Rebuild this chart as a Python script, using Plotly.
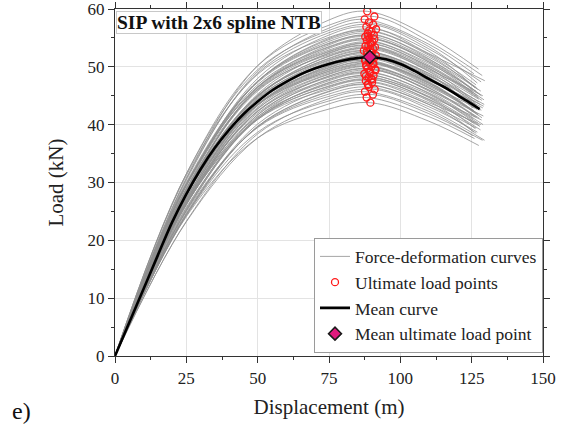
import plotly.graph_objects as go

# ---- data ----
# mean force-deformation curve
mean_disp = [0, 5, 10, 15, 20, 25, 30, 35, 40, 45, 50, 55, 60, 65, 70, 75, 80, 85,
             89.3, 95, 100, 105, 110, 115, 120, 125, 127.8]
mean_load = [0, 5.8, 11.6, 17.4, 23.1, 28.0, 32.3, 36.0, 39.1, 41.8, 44.0, 45.9, 47.4,
             48.7, 49.7, 50.5, 51.1, 51.5, 51.7, 51.3, 50.5, 49.3, 47.9, 46.6, 45.1,
             43.6, 42.7]
mean_ult_disp = 89.3
mean_ult_load = 51.7

# individual specimens: ultimate load points
ult_disp = [89.5, 88.2, 90.4, 87.6, 91.0, 89.0, 88.7, 90.1, 87.9, 89.8,
            88.9, 90.6, 87.4, 89.3, 91.3, 88.5, 89.9, 88.0, 90.3, 89.1,
            87.8, 90.8, 89.6, 88.4, 90.0, 87.2, 89.4, 91.1, 88.8, 89.7,
            90.2, 88.3, 89.2, 87.7, 90.7, 88.6, 89.9, 91.5, 88.1, 90.5,
            89.0, 87.5, 90.9, 88.4,
            88.6, 90.2, 87.9, 89.4, 91.2, 88.1, 90.6, 89.2, 87.6, 90.0,
            88.9, 91.4, 89.7, 88.3, 90.4, 87.8, 89.5, 90.9, 88.7, 89.1]
ult_load = [43.8, 44.7, 45.2, 45.7, 46.1, 46.5, 46.9, 47.3, 47.6, 47.9,
            48.2, 48.5, 48.8, 49.1, 49.4, 49.7, 50.0, 50.3, 50.6, 50.9,
            51.2, 51.5, 51.9, 52.2, 52.5, 52.8, 53.1, 53.4, 53.7, 54.0,
            54.3, 54.6, 54.9, 55.2, 55.5, 55.8, 56.1, 56.5, 56.9, 57.3,
            57.7, 58.2, 58.7, 59.6,
            47.0, 47.8, 48.4, 49.0, 49.6, 50.1, 50.5, 50.8, 51.1, 51.4,
            51.8, 52.0, 52.4, 52.7, 53.2, 53.6, 54.1, 54.8, 55.4, 56.3]

# individual curves: load at displacement 25, 50, 75 and 110, and curve end point
gray_load_25 = [24.1, 23.2, 24.3, 23.3, 25.0, 24.7, 24.5, 26.3, 24.5, 25.7,
                26.4, 25.2, 26.3, 25.1, 26.8, 26.4, 26.2, 27.9, 26.1, 27.3,
                28.0, 26.8, 27.9, 26.8, 28.4, 28.1, 27.8, 29.5, 27.8, 28.9,
                29.7, 28.4, 29.5, 28.4, 30.0, 29.7, 29.4, 31.2, 29.5, 30.7,
                31.5, 30.4, 31.5, 30.7,
                24.3, 26.3, 25.5, 26.7, 25.3, 27.1, 27.9, 26.5, 27.4, 26.4,
                26.9, 28.6, 27.7, 28.6, 27.2, 28.9, 29.8, 28.7, 29.7, 29.0]
gray_load_50 = [37.7, 37.7, 38.7, 38.4, 39.5, 39.6, 39.7, 40.9, 40.1, 40.9,
                41.4, 41.0, 41.7, 41.3, 42.3, 42.3, 42.4, 43.4, 42.7, 43.4,
                44.0, 43.5, 44.4, 43.9, 45.0, 44.9, 45.0, 46.0, 45.3, 46.1,
                46.6, 46.2, 46.9, 46.5, 47.5, 47.5, 47.5, 48.7, 48.0, 48.9,
                49.5, 49.2, 50.2, 50.2,
                39.7, 41.1, 41.1, 42.0, 41.7, 42.8, 43.5, 43.0, 43.6, 43.3,
                43.8, 44.7, 44.5, 45.1, 44.8, 45.8, 46.5, 46.4, 47.3, 47.5]
gray_load_75 = [42.7, 43.6, 44.1, 44.5, 44.9, 45.3, 45.7, 46.1, 46.4, 46.7,
                47.0, 47.3, 47.6, 47.9, 48.2, 48.4, 48.7, 49.0, 49.3, 49.6,
                49.9, 50.2, 50.6, 50.9, 51.2, 51.5, 51.8, 52.1, 52.4, 52.6,
                52.9, 53.2, 53.5, 53.8, 54.1, 54.4, 54.7, 55.1, 55.5, 55.9,
                56.3, 56.7, 57.2, 58.1,
                45.8, 46.6, 47.2, 47.8, 48.4, 48.8, 49.2, 49.5, 49.8, 50.1,
                50.5, 50.7, 51.1, 51.4, 51.9, 52.3, 52.7, 53.4, 54.0, 54.9]
gray_load_110 = [40.6, 41.4, 41.9, 42.3, 42.7, 43.1, 43.5, 43.8, 44.1, 44.4,
                 44.7, 44.9, 45.2, 45.5, 45.8, 46.0, 46.3, 46.6, 46.9, 47.2,
                 47.4, 47.7, 48.1, 48.4, 48.6, 48.9, 49.2, 49.5, 49.8, 50.0,
                 50.3, 50.6, 50.9, 51.1, 51.4, 51.7, 52.0, 52.3, 52.7, 53.1,
                 53.5, 53.9, 54.4, 55.2,
                 43.5, 44.3, 44.8, 45.4, 46.0, 46.4, 46.8, 47.1, 47.3, 47.6,
                 48.0, 48.2, 48.5, 48.8, 49.3, 49.7, 50.1, 50.8, 51.3, 52.2]
gray_end_disp = [127.5, 126.0, 128.8, 125.4, 129.5, 127.0, 126.6, 128.2, 125.8, 127.9,
                 126.3, 128.5, 127.2, 125.6, 129.0, 126.8, 127.7, 125.9, 128.6, 126.4,
                 127.3, 129.2, 125.5, 128.0, 126.9, 127.6, 125.7, 128.9, 126.2, 127.4,
                 129.3, 126.5, 127.8, 125.3, 128.4, 126.7, 127.1, 129.6, 126.1, 128.3,
                 127.0, 125.8, 128.7, 127.4,
                 126.6, 128.1, 125.9, 127.7, 129.1, 126.3, 128.4, 127.2, 125.6, 128.9,
                 126.8, 127.9, 129.4, 126.0, 127.5, 128.6, 125.4, 127.0, 128.2, 126.5]
gray_end_load = [36.4, 37.6, 37.3, 38.1, 37.3, 38.7, 38.5, 40.0, 38.7, 39.7,
                 39.3, 40.8, 40.3, 41.0, 40.0, 41.3, 41.1, 42.4, 41.2, 42.1,
                 41.8, 43.2, 42.9, 43.5, 42.6, 43.9, 43.7, 45.0, 43.8, 44.7,
                 44.3, 45.8, 45.3, 46.0, 45.0, 46.4, 46.1, 47.6, 46.4, 47.4,
                 47.2, 48.8, 48.5, 49.6,
                 39.4, 39.1, 40.2, 39.8, 41.5, 41.3, 42.5, 41.7, 42.2, 42.9,
                 43.4, 42.5, 43.5, 42.8, 44.4, 44.2, 45.5, 45.0, 45.8, 46.9]

SERIF = "Liberation Serif"

fig = go.Figure()

for i in range(len(ult_load)):
    fig.add_trace(go.Scatter(
        x=[0, 25, 50, 75, ult_disp[i], 110, gray_end_disp[i]],
        y=[0, gray_load_25[i], gray_load_50[i], gray_load_75[i], ult_load[i],
           gray_load_110[i], gray_end_load[i]],
        mode="lines", line=dict(color="#8f8f8f", width=0.8, shape="spline"),
        name="Force-deformation curves", legendgroup="curves",
        showlegend=(i == 0)))

fig.add_trace(go.Scatter(
    x=ult_disp, y=ult_load, mode="markers", name="Ultimate load points",
    marker=dict(symbol="circle-open", color="#ff1a1a", size=7, line=dict(width=1.3))))

fig.add_trace(go.Scatter(
    x=mean_disp, y=mean_load, mode="lines", name="Mean curve",
    line=dict(color="black", width=2.6, shape="spline")))

fig.add_trace(go.Scatter(
    x=[mean_ult_disp], y=[mean_ult_load], mode="markers", name="Mean ultimate load point",
    marker=dict(symbol="diamond", color="#e0197d", size=10,
                line=dict(color="#1a1a1a", width=1.5))))

axis_common = dict(showline=True, linecolor="#333333", linewidth=1.2, mirror="ticks",
                   ticks="outside", ticklen=6, tickcolor="#333333", automargin=False,
                   ticklabeloverflow="allow",
                   showgrid=True, gridcolor="#e3e3e3", gridwidth=1, zeroline=False,
                   tickfont=dict(family=SERIF, size=17, color="#222222"),
                   title_font=dict(family=SERIF, size=21, color="#222222"))

fig.update_xaxes(axis_common, range=[0, 150], dtick=25, tick0=0,
                 minor=dict(dtick=12.5, ticks="outside", ticklen=3, tickcolor="#333333"),
                 title_text="Displacement (m)", title_standoff=12)
fig.update_yaxes(axis_common, range=[0, 60], dtick=10, tick0=0,
                 minor=dict(dtick=5, ticks="outside", ticklen=3, tickcolor="#333333"),
                 title_text="Load (kN)", title_standoff=18)

fig.update_layout(
    width=566, height=431,
    margin=dict(l=115, r=23, t=9, b=75),
    plot_bgcolor="white", paper_bgcolor="white",
    font=dict(family=SERIF, color="#222222"),
    legend=dict(x=1, y=0.01, xanchor="right", yanchor="bottom",
                bgcolor="white", bordercolor="#9a9a9a", borderwidth=1,
                font=dict(family=SERIF, size=17.5, color="#222222"),
                tracegroupgap=0, itemwidth=30),
    annotations=[
        dict(text="<b>SIP with 2x6 spline NTB</b>", xref="paper", yref="paper",
             x=0.003, y=0.993, xanchor="left", yanchor="top", showarrow=False,
             font=dict(family=SERIF, size=19.5, color="#111111"),
             bgcolor="white", bordercolor="#c8c8c8", borderwidth=1, borderpad=0),
        dict(text="e)", xref="paper", yref="paper", x=-0.245, y=-0.115,
             xanchor="left", yanchor="top", showarrow=False,
             font=dict(family=SERIF, size=24, color="#111111")),
    ],
)

fig.write_html("out.html", config={"displayModeBar": False},
               post_script="document.body.style.margin='0';document.body.style.overflow='hidden';")
